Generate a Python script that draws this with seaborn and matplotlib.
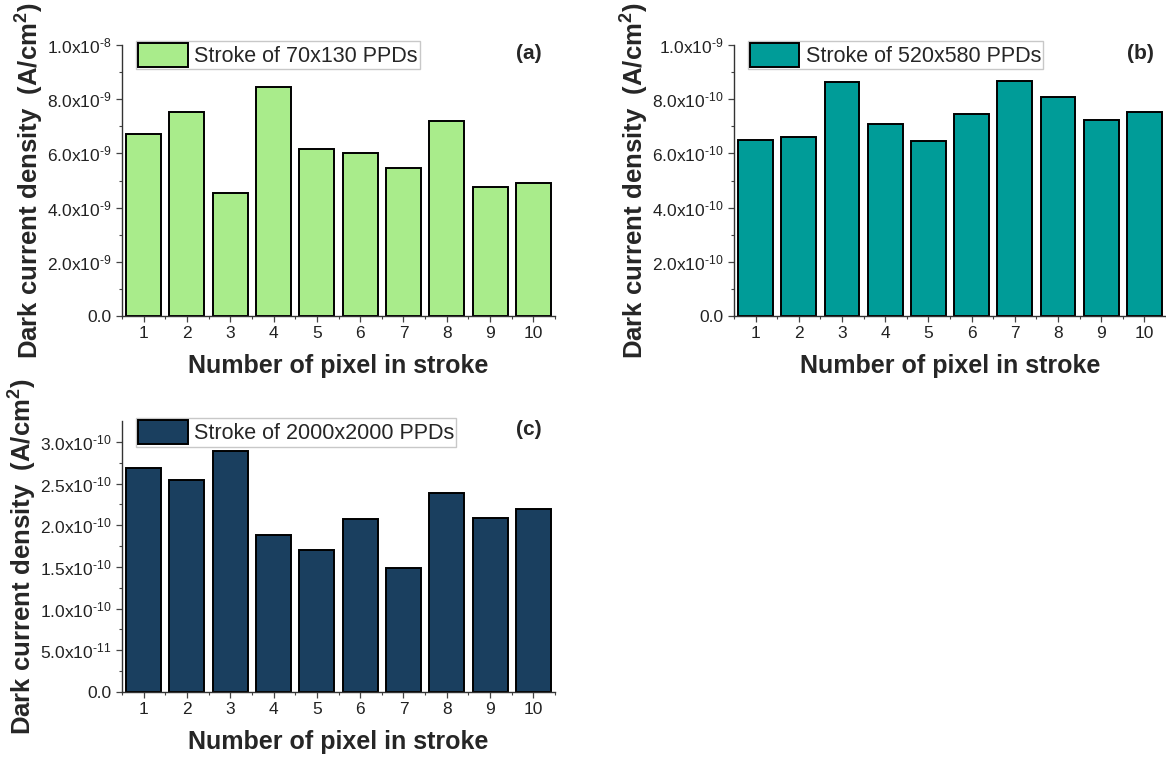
import numpy as np
import pandas as pd
import matplotlib
matplotlib.use("Agg")
import matplotlib.pyplot as plt
import seaborn as sns
from matplotlib.ticker import FixedLocator

# ---------------- data ----------------
pixels = [1, 2, 3, 4, 5, 6, 7, 8, 9, 10]
jd_a = [6.72e-9, 7.52e-9, 4.54e-9, 8.44e-9, 6.15e-9, 6.02e-9, 5.46e-9, 7.19e-9, 4.76e-9, 4.90e-9]
jd_b = [6.48e-10, 6.61e-10, 8.63e-10, 7.09e-10, 6.45e-10, 7.47e-10, 8.66e-10, 8.07e-10, 7.23e-10, 7.51e-10]
jd_c = [2.69e-10, 2.54e-10, 2.89e-10, 1.88e-10, 1.70e-10, 2.07e-10, 1.49e-10, 2.39e-10, 2.09e-10, 2.20e-10]

series_a = "Stroke of 70x130 PPDs"
series_b = "Stroke of 520x580 PPDs"
series_c = "Stroke of 2000x2000 PPDs"

yticks_a = [0, 2e-9, 4e-9, 6e-9, 8e-9, 1e-8]
yticklabels_a = ["0.0", r"2.0x10$\mathregular{^{\text{-}9}}$", r"4.0x10$\mathregular{^{\text{-}9}}$",
                 r"6.0x10$\mathregular{^{\text{-}9}}$", r"8.0x10$\mathregular{^{\text{-}9}}$",
                 r"1.0x10$\mathregular{^{\text{-}8}}$"]
yticks_b = [0, 2e-10, 4e-10, 6e-10, 8e-10, 1e-9]
yticklabels_b = ["0.0", r"2.0x10$\mathregular{^{\text{-}10}}$", r"4.0x10$\mathregular{^{\text{-}10}}$",
                 r"6.0x10$\mathregular{^{\text{-}10}}$", r"8.0x10$\mathregular{^{\text{-}10}}$",
                 r"1.0x10$\mathregular{^{\text{-}9}}$"]
yticks_c = [0, 5e-11, 1e-10, 1.5e-10, 2e-10, 2.5e-10, 3e-10]
yticklabels_c = ["0.0", r"5.0x10$\mathregular{^{\text{-}11}}$", r"1.0x10$\mathregular{^{\text{-}10}}$",
                 r"1.5x10$\mathregular{^{\text{-}10}}$", r"2.0x10$\mathregular{^{\text{-}10}}$",
                 r"2.5x10$\mathregular{^{\text{-}10}}$", r"3.0x10$\mathregular{^{\text{-}10}}$"]

xlabel = "Number of pixel in stroke"
ylabel = r"Dark current density  (A/cm$\mathregular{^2}$)"

# ---------------- style ----------------
sns.set_style("ticks")
plt.rcParams["font.family"] = ["Liberation Sans", "DejaVu Sans"]
plt.rcParams["mathtext.fontset"] = "custom"
plt.rcParams["mathtext.rm"] = "Liberation Sans"
plt.rcParams["mathtext.bf"] = "Liberation Sans:bold"

fig = plt.figure(figsize=(11.66, 7.62), dpi=100)

W, H = 1166, 762
def axes_px(left, top, right, bottom):
    return fig.add_axes([left / W, 1 - bottom / H, (right - left) / W, (bottom - top) / H])

ax_a = axes_px(122, 45, 555, 316)
ax_b = axes_px(734, 45, 1166, 316)
ax_c = axes_px(122, 421, 555, 692)

panels = [
    (ax_a, jd_a, series_a, "#A9EC8B", yticks_a, yticklabels_a, 1.0e-8, "(a)", 1.015),
    (ax_b, jd_b, series_b, "#009C98", yticks_b, yticklabels_b, 1.0e-9, "(b)", 1.015),
    (ax_c, jd_c, series_c, "#1A3F5F", yticks_c, yticklabels_c, 3.25e-10, "(c)", 1.01),
]

for ax, vals, name, col, yt, ytl, ymax, tag, legy in panels:
    df = pd.DataFrame({"pixel": pixels, "J": vals, "series": name})
    sns.barplot(data=df, x="pixel", y="J", hue="series", palette=[col],
                width=0.81, edgecolor="black", linewidth=1.4, saturation=1,
                ax=ax, legend=True)
    ax.set_xlim(-0.5, 9.5)
    ax.set_ylim(0, ymax)
    ax.set_yticks(yt)
    ax.set_yticklabels(ytl)
    step = yt[1] - yt[0]
    ax.yaxis.set_minor_locator(FixedLocator([v + step / 2 for v in yt if v + step / 2 < ymax]))
    ax.xaxis.set_minor_locator(FixedLocator(np.arange(-0.5, 10, 1.0)))
    ax.tick_params(axis="both", which="major", direction="out", length=4.5, width=0.9,
                   color="#444444", labelsize=12.5, labelcolor="#222222", pad=3)
    ax.tick_params(axis="both", which="minor", direction="out", length=2.5, width=0.8,
                   color="#444444")
    ax.tick_params(axis="x", labelsize=12.5)
    for s in ["top", "right"]:
        ax.spines[s].set_visible(False)
    for s in ["left", "bottom"]:
        ax.spines[s].set_color("#333333")
        ax.spines[s].set_linewidth(1.0)
    ax.set_xlabel(xlabel, fontsize=18, fontweight="bold", labelpad=9)
    ax.set_ylabel(ylabel, fontsize=18.5, fontweight="bold", labelpad=1)
    h, l = ax.get_legend_handles_labels()
    leg = ax.legend(h, l, loc="upper left", bbox_to_anchor=(0.032, legy), borderaxespad=0,
                    fontsize=15.5, frameon=True, fancybox=False, edgecolor="#C8C8C8",
                    handlelength=2.3, handleheight=1.3, handletextpad=0.3,
                    borderpad=0.1, framealpha=1)
    leg.get_frame().set_linewidth(1.0)
    ax.text(0.94, 0.97, tag, transform=ax.transAxes, ha="center", va="center",
            fontsize=15, fontweight="bold")

fig.savefig("out.png", dpi=100)
